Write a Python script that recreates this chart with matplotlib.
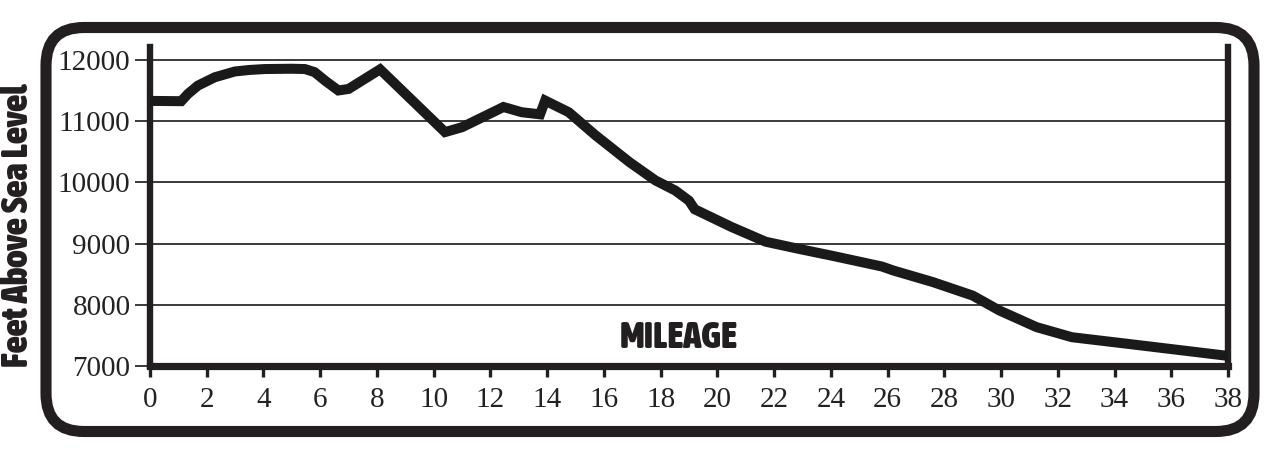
import matplotlib
matplotlib.use("Agg")
import matplotlib.pyplot as plt
from matplotlib.patches import FancyBboxPatch
from matplotlib import font_manager as fm
from matplotlib.textpath import TextPath

# ---- data ----
mileage = [0, 1.1, 1.34, 1.69, 2.28, 2.99, 3.5, 4.05, 5.0, 5.46, 5.8, 6.2, 6.64, 7.0,
           8.11, 10.4, 11.0, 12.46, 13.1, 13.75, 13.93, 14.76, 15.7, 16.9,
           17.82, 18.52, 19.0, 19.2, 20.5, 21.7, 22.9, 24.05, 25.8, 26.2, 27.6,
           29.0, 29.95, 31.25, 32.5, 34.5, 38.0]
elevation = [11330, 11325, 11445, 11580, 11715, 11810, 11835, 11850, 11855, 11850,
             11800, 11650, 11500, 11525, 11845, 10820, 10900, 11230, 11145, 11110,
             11335, 11145, 10770, 10330, 10030, 9865, 9700, 9560, 9270,
             9030, 8910, 8800, 8625, 8560, 8370, 8150, 7905, 7635, 7470, 7360, 7165]
x_ticks = list(range(0, 39, 2))
y_ticks = [7000, 8000, 9000, 10000, 11000, 12000]
x_title = "MILEAGE"
y_title = "Feet Above Sea Level"

INK = "#231f20"
GRID = "#3a3a3a"


def pick_condensed_bold():
    best, best_score = None, -1
    for f in fm.fontManager.ttflist:
        fname = f.fname.lower()
        name = f.name.lower()
        stretch = str(f.stretch).lower()
        narrow = ("condensed" in fname or "narrow" in fname or "condensed" in name
                  or "narrow" in name or "condensed" in stretch)
        w = f.weight
        if isinstance(w, str):
            w = {"bold": 700, "heavy": 900, "black": 900, "extra bold": 800,
                 "semibold": 600, "demibold": 600, "normal": 400,
                 "regular": 400}.get(w.lower(), 400)
        if "italic" in fname or "oblique" in fname or str(f.style) != "normal":
            continue
        if "mono" in name or ("serif" in name and "sans" not in name):
            continue
        score = (1000 if narrow else 0) + w
        if score > best_score:
            best, best_score = f, score
    if best is None:
        return fm.FontProperties(family="DejaVu Sans", weight="bold")
    return fm.FontProperties(fname=best.fname)


fig = plt.figure(figsize=(12.8, 4.58), dpi=100)
PX = 100 / 72.0  # pixels per point

# background axes in pixel units for the rounded frame
bg = fig.add_axes([0, 0, 1, 1])
bg.set_xlim(0, 1280)
bg.set_ylim(458, 0)
bg.axis("off")
R = 38
frame = FancyBboxPatch((46 + R, 27.5 + R), 1208 - 2 * R, 404 - 2 * R,
                       boxstyle=f"round,pad={R}",
                       linewidth=8.0, edgecolor=INK, facecolor="white")
bg.add_patch(frame)

ax = fig.add_axes([150 / 1280, 1 - 366 / 458, (1228 - 150) / 1280, (366 - 47) / 458])
ax.set_facecolor("none")
ax.plot(mileage, elevation, color="#1a1a1a", lw=7.2, solid_joinstyle="miter",
        solid_capstyle="butt", zorder=3)

ax.set_xlim(0, 38)
ax.set_ylim(7000, 12210)
ax.set_xticks(x_ticks)
ax.set_yticks(y_ticks)
ax.set_xticklabels([str(v) for v in x_ticks])
ax.set_yticklabels([str(v) for v in y_ticks])

for yv in y_ticks[1:]:
    ax.axhline(yv, color=GRID, lw=1.4, zorder=1)

for side in ["left", "right", "bottom"]:
    ax.spines[side].set_color(INK)
ax.spines["left"].set_linewidth(4.6)
ax.spines["right"].set_linewidth(4.6)
ax.spines["bottom"].set_linewidth(5.2)
ax.spines["top"].set_visible(False)

serif = ["Liberation Serif", "DejaVu Serif"]
ax.tick_params(axis="y", direction="out", length=11, width=1.4, color=GRID, pad=3)
ax.tick_params(axis="x", direction="out", length=8, width=2.4, color=INK, pad=7)
for lab in ax.get_xticklabels() + ax.get_yticklabels():
    lab.set_fontfamily(serif)
    lab.set_fontsize(21)
    lab.set_color("#222222")

cond = pick_condensed_bold()
# cap height ratio of the chosen font
ext = TextPath((0, 0), "F", size=1, prop=cond).get_extents()
cap_ratio = ext.y1


def fit_size(text, target_len, target_cap):
    tp = TextPath((0, 0), text, size=1, prop=cond).get_extents()
    s_len = target_len / (tp.width * PX)
    s_cap = target_cap / (cap_ratio * PX)
    return min(s_len, s_cap)


# y title: glyphs between x=2 and x=28, y=70..380
ys = fit_size(y_title, 310, 26)
fig.text(28.5 / 1280, 1 - 225 / 458, y_title, rotation=90, rotation_mode="anchor",
         ha="center", va="baseline", fontproperties=cond, fontsize=ys, color=INK)

# x title: glyphs x=620..737, baseline y=348
xs = fit_size(x_title, 117, 26)
fig.text(679 / 1280, 1 - 348.5 / 458, x_title, ha="center", va="baseline",
         fontproperties=cond, fontsize=xs, color=INK)

fig.savefig("out.png", dpi=100)
